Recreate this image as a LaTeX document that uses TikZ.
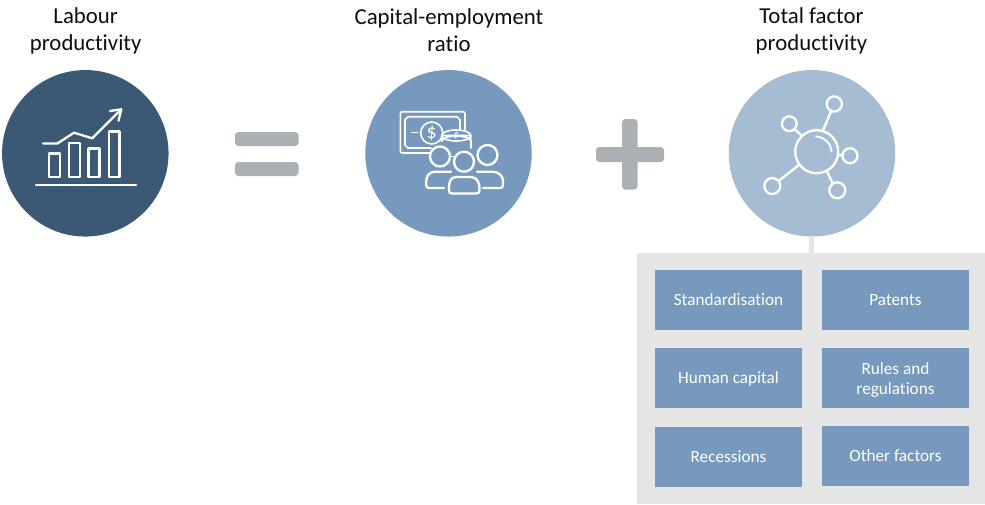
\documentclass[tikz,border=0pt]{standalone}
\usepackage{fontspec}
\setmainfont[Ligatures=NoCommon]{Carlito}
\definecolor{cdark}{HTML}{3B5875}
\definecolor{cmid}{HTML}{7699BD}
\definecolor{clight}{HTML}{A5BCD3}
\definecolor{cgrey}{HTML}{ABB0B4}
\definecolor{cpanel}{HTML}{E5E5E5}
\tikzset{
 disc/.style={circle,inner sep=0pt,minimum size=166.5*0.75pt},
 head/.style={align=center,font=\fontsize{17.1}{20.3}\selectfont,text=black!95},
 factor/.style={fill=cmid,text=white,align=center,inner sep=0pt,minimum width=147*0.75pt,minimum height=60*0.75pt,font=\fontsize{12.9}{15}\selectfont},
 oneline/.style={text height=8.5pt,text depth=0pt},
 ico/.style={draw=white,line width=1.75pt,line join=round,line cap=round,fill=none},
 icos/.style={draw=white,line width=1.2pt,line join=round,line cap=round,fill=none},
 sign/.style={fill=cgrey,rounded corners=2.5pt,draw=none},
}
\begin{document}
\begin{tikzpicture}[x=0.75pt,y=-0.75pt]
\useasboundingbox (0,0) rectangle (985,504);
% discs
\node[disc,fill=cdark] (d1) at (85.3,153.3) {};
\node[disc,fill=cmid] (d2) at (448.5,153.3) {};
\node[disc,fill=clight] (d3) at (812,153.3) {};
% headings
\node[head] (h1) at (85.7,31) {Labour\\productivity};
\node[head] (h2) at (449,30.5) {Capital-employment\\ratio};
\node[head] (h3) at (811.5,31) {Total factor\\productivity};
% panel
\node[fill=cpanel,inner sep=0pt,minimum width=4.7*0.75pt,minimum height=17*0.75pt] (link) at (811.4,244.7) {};
\fill[cpanel] (637,253) rectangle (985,504);
\node[factor,oneline] (f1) at (728.5,300) {Standardisation};
\node[factor,oneline] (f2) at (895.5,299.5) {Patents};
\node[factor,oneline] (f3) at (728.5,378) {Human capital};
\node[factor] (f4) at (895.5,378) {\rule{0pt}{11.9pt}Rules and\\regulations};
\node[factor,oneline] (f5) at (728.5,456.5) {Recessions};
\node[factor,oneline] (f6) at (895.5,456) {Other factors};
% equals
\fill[sign] (235,132) rectangle (298.5,146);
\fill[sign] (235,162) rectangle (298.5,176);
% plus
\fill[sign] (596,147) rectangle (664,162);
\fill[sign] (622,119) rectangle (637.5,189.5);
% chart icon
\draw[ico] (36,185) -- (136,185);
\draw[ico] (49,153.5) rectangle (60,177);
\draw[ico] (69,143) rectangle (80,177);
\draw[ico] (88.5,148.5) rectangle (99.5,177);
\draw[ico] (109,131.5) rectangle (119.5,177);
\draw[ico] (43,143.5) -- (57.3,143.5) -- (74,132.7) -- (92.3,138.3) -- (120.5,110);
\draw[ico] (110,111) -- (121.3,109.3) -- (118.5,120.7);
% money and people icon
\draw[icos,rounded corners=1.5pt] (432,153) -- (400.3,153) -- (400.3,111.7) -- (465,111.7) -- (465,130);
\draw[icos] (431,148) -- (408,148) -- (405,145) -- (405,119.7) -- (408,116.7) -- (457,116.7) -- (460,119.7) -- (460,130);
\draw[icos] (431.7,133) circle (11);
\draw[icos] (411.7,132.5) -- (418,132.5);
\node[text=white,inner sep=0pt,font=\fontsize{15}{15}\selectfont] (dollar) at (431.7,133) {\$};
% coins
\draw[icos,fill=cmid] (441.7,135.5) -- (441.7,141.5) arc[start angle=180,end angle=360,x radius=14.6,y radius=5.5] -- (470.9,135.5) -- cycle;
\draw[icos] (456.3,135.5) ellipse (14.6 and 5.5);
\draw[icos] (470.9,141.5) -- (470.9,148);
\node[text=white,inner sep=0pt,rotate=-15,font=\fontsize{8}{8}\selectfont] (dollarb) at (456.3,135.5) {\$};
\draw[icos] (449,156.5) -- (456,156.5);
% people
\draw[ico,fill=cmid] (440,156.5) circle (10);
\draw[ico,fill=cmid] (487.5,155) circle (10);
\draw[ico,fill=cmid] (464,161.7) circle (10);
\draw[ico] (451,171.7) -- (436,171.7) .. controls (429,171.7) and (426.3,176) .. (426.3,181) -- (426.3,185) .. controls (426.3,187) and (427,188) .. (429,188) -- (444,188);
\draw[ico] (477,171.7) -- (492,171.7) .. controls (499,171.7) and (503,176) .. (503,181) -- (503,185) .. controls (503,187) and (502,188) .. (500,188) -- (483,188);
\draw[ico] (456,177) -- (471,177) .. controls (477,177) and (479.5,183) .. (479.5,188) -- (479.5,190.5) .. controls (479.5,192.5) and (478,193.5) .. (476,193.5) -- (452,193.5) .. controls (450,193.5) and (449,192.5) .. (449,190.5) -- (449,188) .. controls (449,183) and (450,177) .. (456,177);
% network icon
\draw[ico] (816.7,151.7) circle (21.5);
\draw[ico] (834.3,104) circle (7.6);
\draw[ico] (789.3,123.7) circle (7.4);
\draw[ico] (850,155.7) circle (7.5);
\draw[ico] (772.3,186) circle (8);
\draw[ico] (837.3,190.3) circle (8);
\draw[ico] (831,111.5) -- (823,130.5);
\draw[ico] (795,129.5) -- (801,135);
\draw[ico] (838.5,155) -- (842.5,155.5);
\draw[ico] (778.5,181) -- (799,165);
\draw[ico] (827,171.5) -- (832.5,183);
\draw[icos,line width=1.4pt] (816,136.5) .. controls (824,137) and (831,143) .. (831.5,151.5);
\end{tikzpicture}
\end{document}
